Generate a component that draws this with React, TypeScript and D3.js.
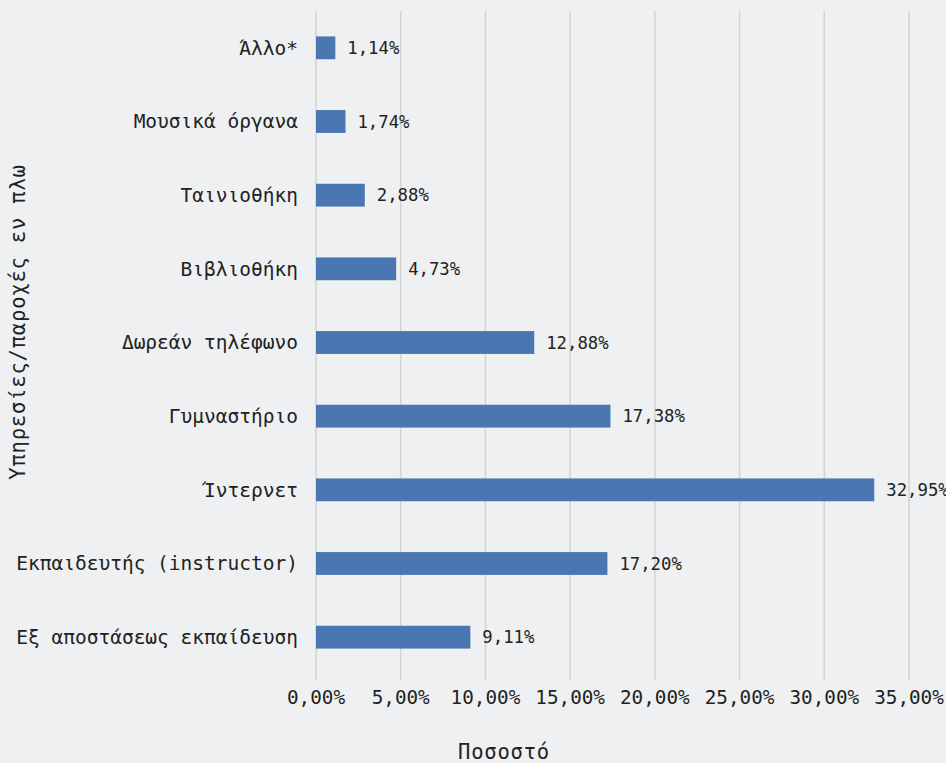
import React from "react";
import * as d3 from "d3";

const categories = [
  "Άλλο*",
  "Μουσικά όργανα",
  "Ταινιοθήκη",
  "Βιβλιοθήκη",
  "Δωρεάν τηλέφωνο",
  "Γυμναστήριο",
  "Ίντερνετ",
  "Εκπαιδευτής (instructor)",
  "Εξ αποστάσεως εκπαίδευση",
];
const values = [1.14, 1.74, 2.88, 4.73, 12.88, 17.38, 32.95, 17.2, 9.11];
const xTicks = [0, 5, 10, 15, 20, 25, 30, 35];

const W = 946;
const H = 763;
const FONT = "'DejaVu Sans Mono', 'Liberation Mono', monospace";
const fmt = (v: number) => v.toFixed(2).replace(".", ",") + "%";

export default function App() {
  const x = d3.scaleLinear().domain([0, 35]).range([316, 909]);
  const y = d3.scaleBand<string>().domain(categories).range([11, 674]).paddingInner(0.69).paddingOuter(0.345);
  return (
    <svg width={W} height={H} style={{ position: "absolute", left: 0, top: 0, background: "#eef0f2" }} fontFamily={FONT}>
      <rect x={0} y={0} width={W} height={H} fill="#eef0f2" />
      {xTicks.map((t) => (
        <line key={t} x1={x(t)} x2={x(t)} y1={11} y2={680} stroke="#d3d3d3" strokeWidth={1.5} />
      ))}
      {categories.map((c, i) => (
        <g key={c}>
          <rect x={x(0)} y={y(c)!} width={x(values[i]) - x(0)} height={y.bandwidth()} fill="#4a77b1" />
          <text x={298} y={y(c)! + y.bandwidth() / 2} dy="0.35em" textAnchor="end" fontSize={19.5} fill="#222">
            {c}
          </text>
          <text x={x(values[i]) + 12} y={y(c)! + y.bandwidth() / 2} dy="0.35em" fontSize={17.3} fill="#222">
            {fmt(values[i])}
          </text>
        </g>
      ))}
      {xTicks.map((t) => (
        <text key={t} x={x(t)} y={697} dy="0.35em" textAnchor="middle" fontSize={19.3} fill="#222">
          {fmt(t)}
        </text>
      ))}
      <text x={504} y={752} dy="0.35em" textAnchor="middle" fontSize={20.5} letterSpacing={0.8} fill="#222">
        Ποσοστό
      </text>
      <text transform={`translate(18,322) rotate(-90)`} dy="0.35em" textAnchor="middle" fontSize={20.5} letterSpacing={0.8} fill="#222">
        Υπηρεσίες/παροχές εν πλω
      </text>
    </svg>
  );
}
